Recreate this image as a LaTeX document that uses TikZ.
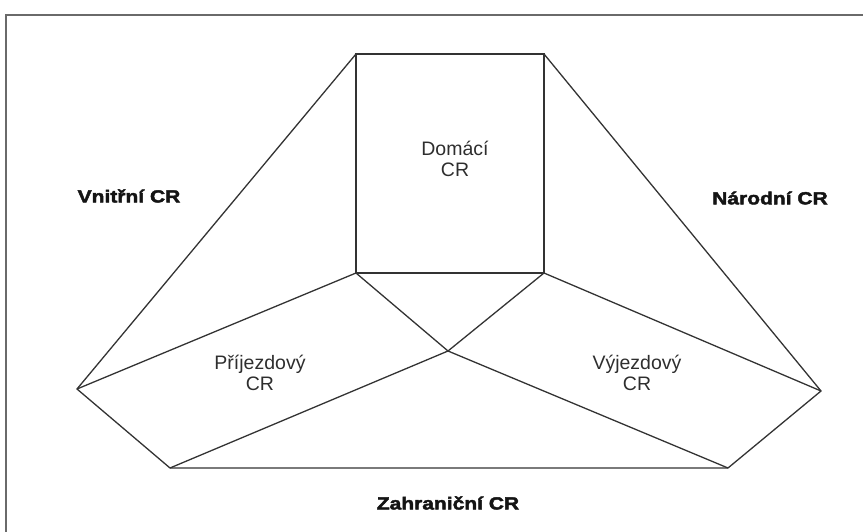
\documentclass[tikz,border=0pt]{standalone}
\usepackage{fontspec}
\setmainfont{Liberation Sans}
\newfontfamily\heavyfont[BoldFeatures={FakeStretch=1.2,FakeBold=2.5}]{Liberation Sans}
\definecolor{linegray}{HTML}{333333}
\definecolor{framegray}{HTML}{6A6A6A}
\definecolor{textgray}{HTML}{2E2E2E}
\begin{document}
\begin{tikzpicture}[x=1pt,y=-1pt,
  edge/.style={draw=linegray,line width=1.3pt,line join=miter},
  frameline/.style={draw=framegray,line width=2pt},
  region/.style={font=\fontsize{19.5}{21}\selectfont,text=textgray,align=center,inner sep=0pt},
  heavylabel/.style={font=\fontsize{17.5}{20}\selectfont\heavyfont\bfseries,text=black!92,inner sep=0pt}]
\useasboundingbox (0,0) rectangle (863,532);
\draw[frameline] (6,532) -- (6,15) -- (863,15);
% vertices
\coordinate (tl) at (356,54);
\coordinate (tr) at (544,54);
\coordinate (bl) at (356,273);
\coordinate (br) at (544,273);
\coordinate (c) at (448,351);
\coordinate (l) at (77,389);
\coordinate (r) at (821,391);
\coordinate (lb) at (170,468);
\coordinate (rb) at (728,468);
% square
\draw[edge] (tl) -- (tr) -- (br) -- (bl) -- cycle;
% outer hull
\draw[edge] (tl) -- (l) -- (lb) -- (rb) -- (r) -- (tr);
% inner lines
\draw[edge] (l) -- (bl);
\draw[edge] (r) -- (br);
\draw[edge] (bl) -- (c) -- (br);
\draw[edge] (lb) -- (c) -- (rb);
% labels
\node[region] (dom) at (455,159) {Domácí\\CR};
\node[region] (prij) at (260,373) {Příjezdový\\CR};
\node[region] (vyj) at (637,373) {Výjezdový\\CR};
\node[heavylabel] (vni) at (129,196) {Vnitřní CR};
\node[heavylabel] (nar) at (770,198) {Národní CR};
\node[heavylabel] (zah) at (448,503) {Zahraniční CR};
\end{tikzpicture}
\end{document}
